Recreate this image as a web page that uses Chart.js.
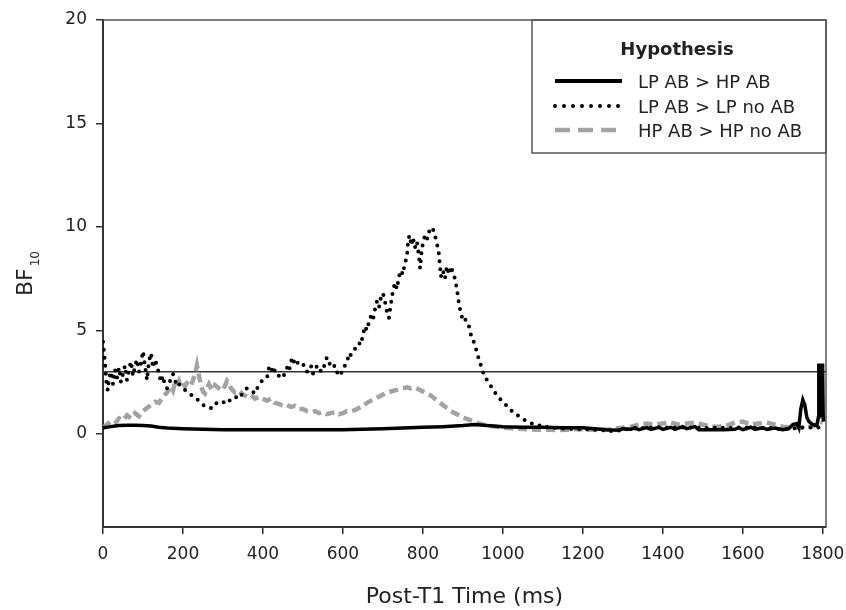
<!DOCTYPE html>
<html>
<head>
<meta charset="utf-8">
<title>BF10 over post-T1 time</title>
<script src="https://cdn.jsdelivr.net/npm/chart.js@4.4.1/dist/chart.umd.min.js"></script>
<style>
  html, body { margin: 0; padding: 0; background: #fff; }
  #wrap { width: 846px; height: 610px; }
</style>
</head>
<body>
<div id="wrap"><canvas id="bfChart" width="846" height="610"></canvas></div>
<script>
// ---- data ----
const xTicks = [0, 200, 400, 600, 800, 1000, 1200, 1400, 1600, 1800];
const yTicks = [0, 5, 10, 15, 20];
const legendLabels = ['LP AB > HP AB', 'LP AB > LP no AB', 'HP AB > HP no AB'];

// LP AB > HP AB (solid)
const solidTime = [0, 20, 40, 60, 80, 100, 120, 140, 160, 200, 250, 300, 350, 400, 450, 500, 550, 600, 650, 700,
  750, 800, 850, 900, 930, 960, 1000, 1050, 1100, 1150, 1200, 1230, 1260, 1290, 1300, 1320, 1330, 1340, 1360, 1370,
  1390, 1400, 1420, 1430, 1450, 1460, 1480, 1490, 1520, 1550, 1580, 1590, 1600, 1620, 1630, 1650, 1660, 1680, 1700, 1715,
  1725, 1735, 1740, 1745, 1750, 1755, 1760, 1765, 1775, 1785, 1789, 1790, 1791, 1792, 1793, 1794, 1795, 1796, 1797, 1798,
  1799, 1800, 1801, 1802];
const solidBF = [0.3, 0.35, 0.4, 0.42, 0.42, 0.4, 0.38, 0.32, 0.28, 0.25, 0.22, 0.2, 0.2, 0.2, 0.2, 0.2, 0.2, 0.2, 0.22, 0.25,
  0.28, 0.32, 0.35, 0.4, 0.45, 0.4, 0.35, 0.32, 0.32, 0.3, 0.3, 0.25, 0.2, 0.18, 0.25, 0.22, 0.3, 0.2, 0.3, 0.22,
  0.32, 0.22, 0.32, 0.22, 0.35, 0.25, 0.35, 0.2, 0.2, 0.2, 0.22, 0.3, 0.2, 0.32, 0.22, 0.3, 0.22, 0.28, 0.2, 0.25,
  0.45, 0.5, 0.3, 1.2, 1.65, 1.4, 0.8, 0.6, 0.45, 0.4, 0.8, 3.4, 1.0, 3.3, 0.9, 3.4, 1.0, 3.3, 0.9, 3.4,
  0.8, 3.2, 0.8, 0.6];

// LP AB > LP no AB (dotted)
const dotTime = [0, 3, 6, 9, 12, 15, 20, 25, 30, 35, 40, 45, 50, 55, 60, 65, 70, 75, 80, 85,
  90, 95, 100, 105, 110, 115, 120, 125, 130, 135, 140, 145, 150, 155, 160, 165, 170, 175, 180, 185,
  190, 200, 210, 220, 230, 240, 250, 260, 270, 280, 290, 300, 310, 320, 330, 340, 350, 360, 370, 380,
  390, 400, 410, 415, 420, 425, 430, 440, 450, 455, 460, 465, 470, 475, 480, 490, 500, 505, 510, 520,
  525, 530, 540, 545, 550, 555, 560, 565, 570, 580, 585, 590, 595, 600, 610, 615, 620, 630, 640, 645,
  650, 655, 660, 665, 670, 675, 680, 685, 690, 695, 700, 705, 710, 715, 720, 725, 730, 735, 740, 745,
  750, 755, 760, 763, 767, 771, 775, 780, 785, 790, 793, 797, 800, 805, 810, 815, 820, 825, 830, 835,
  840, 845, 850, 855, 860, 865, 870, 875, 880, 885, 890, 895, 900, 905, 910, 915, 920, 930, 940, 950,
  960, 970, 980, 990, 1000, 1010, 1020, 1030, 1040, 1050, 1060, 1070, 1080, 1090, 1100, 1120, 1140, 1160, 1180, 1200,
  1220, 1240, 1260, 1280, 1300, 1320, 1340, 1360, 1380, 1400, 1420, 1440, 1460, 1480, 1500, 1520, 1540, 1560, 1580, 1600,
  1620, 1640, 1660, 1680, 1700, 1720, 1740, 1760, 1780, 1800];
const dotBF = [4.45, 3.9, 3.2, 2.4, 2.1, 2.7, 3.0, 2.4, 3.1, 2.7, 3.2, 2.5, 2.9, 3.3, 2.6, 3.1, 3.5, 2.8, 3.3, 3.6,
  3.0, 3.4, 4.0, 3.3, 2.6, 3.5, 3.9, 3.2, 3.6, 3.3, 2.9, 2.5, 2.8, 2.3, 2.2, 2.4, 2.7, 2.9, 2.6, 2.3,
  2.4, 2.2, 2.05, 1.9, 1.75, 1.6, 1.4, 1.3, 1.25, 1.5, 1.45, 1.55, 1.45, 1.7, 1.8, 1.7, 2.0, 2.2, 2.1, 1.95,
  2.4, 2.6, 2.7, 3.2, 3.3, 2.9, 3.1, 2.8, 2.7, 3.0, 3.2, 3.0, 3.5, 3.7, 3.3, 3.5, 3.4, 3.1, 3.0, 3.3,
  2.9, 3.2, 3.3, 3.0, 3.1, 3.4, 3.7, 3.5, 3.2, 3.3, 3.0, 2.8, 2.9, 3.2, 3.4, 3.9, 3.8, 4.1, 4.4, 4.3,
  4.8, 5.2, 5.0, 5.4, 5.7, 5.5, 6.0, 6.4, 6.1, 6.6, 6.8, 6.4, 5.9, 5.6, 6.3, 6.9, 7.3, 7.0, 7.6, 7.9,
  7.7, 8.3, 8.5, 9.4, 9.6, 9.1, 9.5, 9.0, 9.3, 8.6, 8.0, 8.9, 9.2, 9.6, 9.4, 9.8, 9.7, 9.9, 9.6, 9.2,
  8.7, 7.6, 7.9, 7.5, 8.1, 7.7, 8.1, 7.8, 7.5, 7.0, 6.3, 5.8, 5.5, 5.6, 5.3, 5.2, 4.8, 4.3, 3.6, 3.0,
  2.6, 2.3, 2.0, 1.75, 1.55, 1.35, 1.15, 1.0, 0.85, 0.72, 0.62, 0.52, 0.45, 0.42, 0.35, 0.32, 0.28, 0.25, 0.22, 0.22,
  0.2, 0.2, 0.15, 0.13, 0.2, 0.25, 0.28, 0.3, 0.32, 0.32, 0.3, 0.32, 0.3, 0.32, 0.28, 0.3, 0.3, 0.28, 0.3, 0.32,
  0.3, 0.28, 0.3, 0.26, 0.22, 0.25, 0.3, 0.32, 0.3, 0.32];

// HP AB > HP no AB (grey dashed)
const dashTime = [0, 10, 20, 30, 40, 50, 60, 70, 80, 90, 100, 110, 120, 130, 140, 150, 160, 170, 175, 180,
  185, 190, 195, 200, 205, 210, 220, 225, 230, 235, 240, 245, 250, 255, 260, 265, 270, 275, 280, 290,
  300, 310, 315, 320, 330, 340, 350, 360, 370, 380, 390, 400, 410, 420, 430, 440, 450, 460, 470, 480,
  490, 500, 510, 520, 530, 540, 550, 560, 570, 580, 590, 600, 610, 620, 630, 640, 650, 660, 670, 680,
  690, 700, 710, 720, 730, 740, 750, 760, 770, 780, 790, 800, 810, 820, 830, 840, 850, 860, 870, 880,
  890, 900, 910, 920, 930, 940, 950, 960, 980, 1000, 1020, 1040, 1060, 1080, 1100, 1120, 1140, 1160, 1180, 1200,
  1220, 1240, 1260, 1280, 1300, 1320, 1340, 1360, 1380, 1400, 1420, 1440, 1460, 1480, 1500, 1520, 1540, 1560, 1580, 1600,
  1620, 1640, 1660, 1680, 1700, 1720, 1740, 1760, 1780, 1790, 1800];
const dashBF = [0.3, 0.45, 0.6, 0.5, 0.75, 0.65, 0.9, 0.75, 1.0, 0.85, 1.1, 1.25, 1.4, 1.55, 1.5, 1.8, 2.0, 2.3, 2.1, 2.45,
  2.3, 2.55, 2.3, 2.45, 2.3, 2.45, 2.3, 2.6, 2.85, 3.3, 2.8, 2.35, 2.05, 1.95, 2.2, 2.4, 2.2, 2.1, 2.35, 2.2,
  2.1, 2.55, 2.4, 2.2, 2.0, 2.1, 1.9, 1.8, 1.9, 1.7, 1.8, 1.7, 1.6, 1.7, 1.5, 1.45, 1.35, 1.4, 1.3, 1.35,
  1.2, 1.2, 1.1, 1.05, 1.1, 1.0, 1.05, 0.95, 1.0, 1.05, 0.95, 1.0, 1.1, 1.1, 1.15, 1.25, 1.35, 1.5, 1.6, 1.7,
  1.8, 1.9, 2.0, 2.05, 2.1, 2.15, 2.2, 2.25, 2.2, 2.25, 2.15, 2.05, 1.95, 1.85, 1.7, 1.55, 1.4, 1.25, 1.1, 1.0,
  0.9, 0.8, 0.72, 0.65, 0.58, 0.5, 0.45, 0.4, 0.35, 0.3, 0.27, 0.25, 0.22, 0.2, 0.2, 0.2, 0.18, 0.2, 0.22, 0.22,
  0.2, 0.18, 0.2, 0.25, 0.3, 0.35, 0.45, 0.5, 0.45, 0.5, 0.55, 0.45, 0.5, 0.55, 0.45, 0.35, 0.35, 0.4, 0.55, 0.6,
  0.45, 0.5, 0.55, 0.45, 0.35, 0.3, 0.3, 0.3, 0.4, 0.6, 0.55];

// reference line at BF10 = 3
const thresholdTime = [0, 1808];
const thresholdBF = [3, 3];

// ---- helpers ----
const FONT = '"DejaVu Sans", "Liberation Sans", Arial, sans-serif';
const INK = '#222';
const AXIS = '#333';
const GREY = '#a3a3a3';
const toPoints = (ts, vs) => ts.map((t, i) => ({ x: t, y: vs[i] }));

// y title with subscript
const yTitlePlugin = {
  id: 'yTitle',
  afterDraw(chart) {
    const { ctx, chartArea } = chart;
    const cy = (chartArea.top + chartArea.bottom) / 2;
    ctx.save();
    ctx.translate(32, cy);
    ctx.rotate(-Math.PI / 2);
    ctx.fillStyle = INK;
    ctx.textBaseline = 'alphabetic';
    ctx.textAlign = 'left';
    ctx.font = '22px ' + FONT;
    const wMain = ctx.measureText('BF').width;
    ctx.font = '12px ' + FONT;
    const wSub = ctx.measureText('10').width;
    const start = -(wMain + 2 + wSub) / 2;
    ctx.font = '22px ' + FONT;
    ctx.fillText('BF', start, 0);
    ctx.font = '12px ' + FONT;
    ctx.fillText('10', start + wMain + 2, 7);
    ctx.restore();
  }
};

// top/right frame
const framePlugin = {
  id: 'frame',
  afterDraw(chart) {
    const { ctx, chartArea: a } = chart;
    ctx.save();
    ctx.strokeStyle = '#555';
    ctx.lineWidth = 1.5;
    ctx.beginPath();
    ctx.moveTo(a.left, a.top);
    ctx.lineTo(a.right, a.top);
    ctx.lineTo(a.right, a.bottom);
    ctx.stroke();
    ctx.restore();
  }
};

// boxed legend in the top-right corner
const legendPlugin = {
  id: 'boxLegend',
  afterDraw(chart) {
    const { ctx, chartArea: a } = chart;
    const w = 294, h = 133;
    const x0 = a.right - w, y0 = a.top;
    ctx.save();
    ctx.strokeStyle = '#555';
    ctx.lineWidth = 1.5;
    ctx.strokeRect(x0, y0, w, h);

    ctx.fillStyle = INK;
    ctx.textAlign = 'center';
    ctx.textBaseline = 'alphabetic';
    ctx.font = 'bold 18px ' + FONT;
    ctx.fillText('Hypothesis', x0 + 145, y0 + 35);

    const rows = [68, 93, 117];
    const styles = [
      { color: '#000', width: 4, dash: [], cap: 'butt', end: 90 },
      { color: '#000', width: 4, dash: [0, 9], cap: 'round', end: 90 },
      { color: GREY, width: 4.5, dash: [15, 8], cap: 'butt', end: 85 }
    ];
    legendLabels.forEach((label, i) => {
      const s = styles[i];
      const ly = y0 + rows[i] - 7;
      ctx.beginPath();
      ctx.setLineDash(s.dash);
      ctx.lineCap = s.cap;
      ctx.lineWidth = s.width;
      ctx.strokeStyle = s.color;
      ctx.moveTo(x0 + 23, ly);
      ctx.lineTo(x0 + s.end, ly);
      ctx.stroke();
      ctx.setLineDash([]);
      ctx.fillStyle = INK;
      ctx.textAlign = 'left';
      ctx.font = '18px ' + FONT;
      ctx.fillText(label, x0 + 106, y0 + rows[i]);
    });
    ctx.restore();
  }
};

// ---- chart ----
const canvas = document.getElementById('bfChart');
new Chart(canvas, {
  type: 'line',
  data: {
    datasets: [
      {
        label: legendLabels[0],
        data: toPoints(solidTime, solidBF),
        borderColor: '#000',
        borderWidth: 3.5,
        pointRadius: 0,
        tension: 0
      },
      {
        label: legendLabels[1],
        data: toPoints(dotTime, dotBF),
        borderColor: '#000',
        borderWidth: 4,
        borderDash: [0, 8],
        borderCapStyle: 'round',
        pointRadius: 0,
        tension: 0
      },
      {
        label: legendLabels[2],
        data: toPoints(dashTime, dashBF),
        borderColor: GREY,
        borderWidth: 4.5,
        borderDash: [9, 5],
        pointRadius: 0,
        tension: 0
      },
      {
        label: 'threshold',
        data: toPoints(thresholdTime, thresholdBF),
        borderColor: AXIS,
        borderWidth: 1.5,
        pointRadius: 0
      }
    ]
  },
  options: {
    responsive: false,
    animation: false,
    layout: { padding: { top: 20, right: 20, left: 0, bottom: 0 } },
    plugins: { legend: { display: false }, tooltip: { enabled: false } },
    scales: {
      x: {
        type: 'linear',
        min: 0,
        max: 1808,
        afterBuildTicks: (s) => { s.ticks = xTicks.map(v => ({ value: v })); },
        afterFit: (s) => { s.height = 83; s.paddingLeft = 0; s.paddingRight = 0; },
        ticks: { color: INK, font: { family: FONT, size: 17 }, padding: 10, maxRotation: 0, callback: (v) => String(v) },
        grid: { drawOnChartArea: false, drawTicks: true, tickLength: 7, color: AXIS, lineWidth: 1.5 },
        border: { display: true, color: AXIS, width: 2 },
        title: { display: true, text: 'Post-T1 Time (ms)', color: INK, font: { family: FONT, size: 22 }, padding: { top: 0, bottom: 0 } }
      },
      y: {
        min: -4.5,
        max: 20,
        afterBuildTicks: (s) => { s.ticks = yTicks.map(v => ({ value: v })); },
        afterFit: (s) => { s.width = 103; s.paddingTop = 0; s.paddingBottom = 0; },
        ticks: { color: INK, font: { family: FONT, size: 17 }, padding: 9, callback: (v) => String(v) },
        grid: { drawOnChartArea: false, drawTicks: true, tickLength: 7, color: AXIS, lineWidth: 1.5 },
        border: { display: true, color: AXIS, width: 2 }
      }
    }
  },
  plugins: [yTitlePlugin, framePlugin, legendPlugin]
});
</script>
</body>
</html>
